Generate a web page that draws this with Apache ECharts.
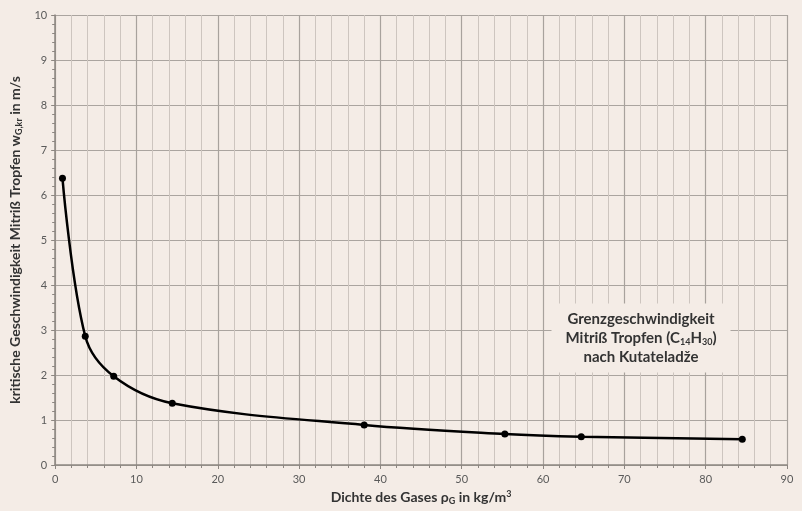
<!DOCTYPE html>
<html>
<head>
<meta charset="utf-8">
<script src="https://cdn.jsdelivr.net/npm/echarts@6/dist/echarts.min.js"></script>
<style>
  html, body { margin: 0; padding: 0; background: #f4ece6; }
  #chart { width: 802px; height: 511px; }
</style>
</head>
<body>
<div id="chart"></div>
<script>
// Gas density (kg/m³) and critical velocity for droplet entrainment (m/s)
const gasDensity = [0.9, 3.7, 7.2, 14.4, 38.0, 55.3, 64.7, 84.5];
const criticalVelocity = [6.37, 2.86, 1.97, 1.37, 0.89, 0.69, 0.63, 0.57];

const bg = '#f4ece6';
const fontFamily = 'Lato, "Open Sans", sans-serif';

const chart = echarts.init(document.getElementById('chart'));
chart.setOption({
  backgroundColor: bg,
  animation: false,
  textStyle: { fontFamily },
  grid: { left: 55, right: 15, top: 15, bottom: 44, containLabel: false },
  xAxis: {
    type: 'value',
    min: 0, max: 90, interval: 10,
    name: 'Dichte des Gases ρ{sub|G} in kg/m{sup|3}',
    nameLocation: 'middle',
    nameGap: 24,
    nameTextStyle: {
      fontFamily, fontSize: 14, fontWeight: 'bold', color: '#333',
      rich: {
        sub: { fontFamily, fontSize: 9, fontWeight: 'bold', color: '#333', padding: [8, 0, 0, 0] },
        sup: { fontFamily, fontSize: 9, fontWeight: 'bold', color: '#333', padding: [0, 0, 6, 0] }
      }
    },
    axisLine: { lineStyle: { color: '#8c8681', width: 1.5 } },
    axisTick: { length: 4, lineStyle: { color: '#8c8681' } },
    minorTick: { show: true, splitNumber: 5, length: 3, lineStyle: { color: '#8c8681' } },
    axisLabel: { color: '#5a5a5a', fontSize: 11, margin: 9 },
    splitLine: { show: true, lineStyle: { color: '#a8a29d', width: 1.2 } },
    minorSplitLine: { show: true, lineStyle: { color: '#cdc5bf', width: 1 } }
  },
  yAxis: {
    type: 'value',
    min: 0, max: 10, interval: 1,
    name: 'kritische Geschwindigkeit Mitriß Tropfen w{sub|G,kr} in m/s',
    nameLocation: 'middle',
    nameGap: 30,
    nameRotate: 90,
    nameTextStyle: {
      fontFamily, fontSize: 14, fontWeight: 'bold', color: '#333',
      rich: {
        sub: { fontFamily, fontSize: 9, fontWeight: 'bold', color: '#333', padding: [8, 0, 0, 0] }
      }
    },
    axisLine: { show: true, lineStyle: { color: '#8c8681', width: 1.5 } },
    axisTick: { show: true, length: 4, lineStyle: { color: '#8c8681' } },
    minorTick: { show: true, splitNumber: 5, length: 3, lineStyle: { color: '#8c8681' } },
    axisLabel: { color: '#5a5a5a', fontSize: 11, margin: 8 },
    splitLine: { show: true, lineStyle: { color: '#aaa49f', width: 1.2 } },
    minorSplitLine: { show: false }
  },
  series: [{
    type: 'line',
    data: gasDensity.map((x, i) => [x, criticalVelocity[i]]),
    smooth: 0.35,
    symbol: 'circle',
    symbolSize: 7,
    itemStyle: { color: '#000' },
    lineStyle: { color: '#000', width: 2.5 }
  }],
  graphic: [{
    type: 'text',
    x: 641, y: 338,
    z: 100,
    style: {
      text: 'Grenzgeschwindigkeit\nMitriß Tropfen (C{sub|14}H{sub|30})\nnach Kutateladže',
      align: 'center', verticalAlign: 'middle',
      fontFamily, fontSize: 15, fontWeight: 'bold', fill: '#333', lineHeight: 19,
      backgroundColor: bg,
      padding: [6, 14, 6, 14],
      rich: {
        sub: { fontFamily, fontSize: 9, fontWeight: 'bold', fill: '#333', padding: [8, 0, 0, 0] }
      }
    }
  }]
});
</script>
</body>
</html>
